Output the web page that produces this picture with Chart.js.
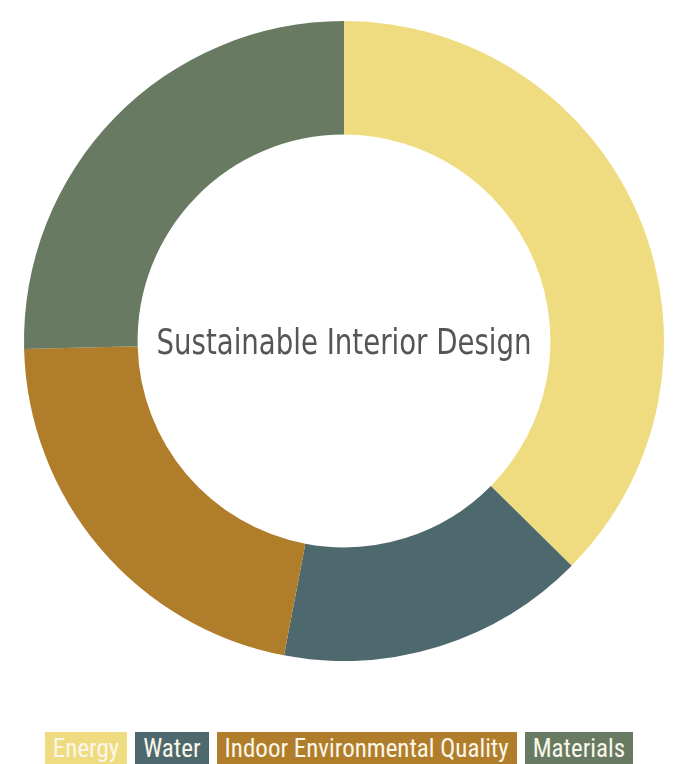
<!DOCTYPE html>
<html>
<head>
<meta charset="utf-8">
<script src="https://cdn.jsdelivr.net/npm/chart.js@4.4.1/dist/chart.umd.min.js"></script>
<style>
  html, body { margin: 0; padding: 0; background: #ffffff; width: 678px; height: 764px; overflow: hidden; }
  #wrap { position: absolute; left: 0; top: 0; width: 678px; height: 661px; }
  #legend { position: absolute; left: 0; top: 732px; width: 678px; display: flex; justify-content: center; gap: 8px; }
  .item { height: 38px; line-height: 34px; padding: 0 8px; color: #fbf6ea;
          font-family: "Liberation Sans Narrow", "Roboto Condensed", "DejaVu Sans Condensed", sans-serif;
          font-size: 25px; font-stretch: condensed; white-space: nowrap; box-sizing: border-box; }
</style>
</head>
<body>
<div id="wrap"><canvas id="c"></canvas></div>
<div id="legend"></div>
<script>
const categories = ["Energy", "Water", "Indoor Environmental Quality", "Materials"];
const values = [37.4, 15.6, 21.6, 25.4];
const colors = ["#EFDC80", "#4E696D", "#B07E2B", "#687B62"];
const centerTitle = "Sustainable Interior Design";

const centerText = {
  id: "centerText",
  afterDraw(chart) {
    const ctx = chart.ctx;
    const a = chart.chartArea;
    const cx = (a.left + a.right) / 2, cy = (a.top + a.bottom) / 2;
    ctx.save();
    ctx.font = '35px "Liberation Sans Narrow", "DejaVu Sans Condensed", sans-serif';
    ctx.fillStyle = "#555555";
    ctx.textAlign = "center";
    ctx.textBaseline = "middle";
    const w = ctx.measureText(centerTitle).width;
    const target = 375;
    const sx = target / w;
    ctx.translate(cx, cy + 4);
    ctx.scale(sx, 1);
    ctx.fillText(centerTitle, 0, 0);
    ctx.restore();
  }
};

new Chart(document.getElementById("c"), {
  type: "doughnut",
  data: {
    labels: categories,
    datasets: [{ data: values, backgroundColor: colors, borderWidth: 0, hoverOffset: 0 }]
  },
  options: {
    responsive: true,
    maintainAspectRatio: false,
    animation: false,
    cutout: "64.5%",
    layout: { padding: { left: 24, right: 14, top: 21, bottom: 0 } },
    plugins: { legend: { display: false }, tooltip: { enabled: false } }
  },
  plugins: [centerText]
});

const lg = document.getElementById("legend");
categories.forEach((c, i) => {
  const s = document.createElement("div");
  s.className = "item";
  s.style.background = colors[i];
  s.textContent = c;
  lg.appendChild(s);
});
</script>
</body>
</html>
